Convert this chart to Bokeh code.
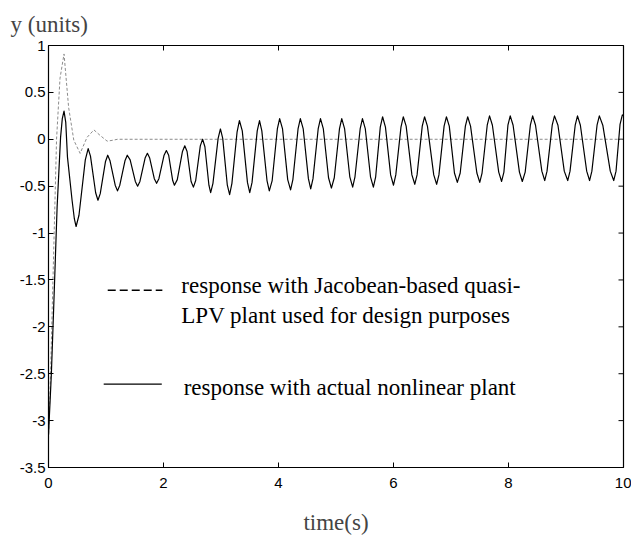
import math
from bokeh.plotting import figure
from bokeh.models import FixedTicker, Label, Arrow, Range1d, ColumnDataSource
from bokeh.embed import file_html
from bokeh.resources import INLINE

# ---- data ----
t_lpv = [0.0, 0.04, 0.09, 0.14, 0.20, 0.27, 0.35, 0.44, 0.55, 0.67, 0.79, 0.90, 1.02, 1.12, 1.20, 10.0]
y_lpv = [-3.2, -2.4, -1.2, 0.0, 0.65, 0.91, 0.34, -0.01, -0.15, 0.02, 0.10, 0.04, -0.02, -0.01, 0.0, 0.0]

t_nl = [0.00, 0.05, 0.09, 0.15, 0.21, 0.24, 0.27, 0.30, 0.33, 0.41, 0.45, 0.48,
        0.53, 0.64, 0.69, 0.73, 0.82, 0.86, 0.90, 0.99, 1.03, 1.07, 1.16, 1.20,
        1.24, 1.33, 1.37, 1.42, 1.51, 1.55, 1.59, 1.68, 1.72, 1.76, 1.84, 1.88,
        1.92, 2.01, 2.05, 2.09, 2.16, 2.19, 2.24, 2.33, 2.37, 2.41, 2.48, 2.52,
        2.56, 2.64, 2.68, 2.72, 2.79, 2.82, 2.86, 2.95, 2.99, 3.03, 3.11, 3.15,
        3.19, 3.28, 3.32, 3.37, 3.46, 3.50, 3.54, 3.63, 3.67, 3.71, 3.80, 3.84,
        3.89, 3.98, 4.02, 4.07, 4.16, 4.21, 4.25, 4.34, 4.38, 4.43, 4.52, 4.56,
        4.60, 4.69, 4.73, 4.78, 4.87, 4.92, 4.97, 5.06, 5.10, 5.15, 5.24, 5.29,
        5.33, 5.42, 5.46, 5.51, 5.60, 5.65, 5.69, 5.77, 5.81, 5.86, 5.95, 6.00,
        6.04, 6.13, 6.17, 6.22, 6.32, 6.37, 6.41, 6.50, 6.54, 6.59, 6.70, 6.75,
        6.79, 6.88, 6.92, 6.97, 7.06, 7.11, 7.16, 7.25, 7.29, 7.34, 7.45, 7.50,
        7.54, 7.63, 7.67, 7.72, 7.83, 7.88, 7.92, 7.99, 8.03, 8.08, 8.19, 8.24,
        8.29, 8.38, 8.42, 8.47, 8.58, 8.63, 8.67, 8.76, 8.80, 8.86, 8.97, 9.03,
        9.07, 9.16, 9.20, 9.25, 9.36, 9.41, 9.45, 9.54, 9.58, 9.64, 9.77, 9.83,
        9.87, 9.94, 9.98, 10.0]
y_nl = [-3.15, -2.5, -1.8, -0.72, 0.02, 0.22, 0.30, 0.18, -0.19, -0.65, -0.85, -0.93,
        -0.81, -0.22, -0.10, -0.18, -0.57, -0.65, -0.58, -0.24, -0.17, -0.23, -0.49, -0.55,
        -0.49, -0.23, -0.17, -0.22, -0.45, -0.50, -0.45, -0.20, -0.15, -0.20, -0.42, -0.47,
        -0.42, -0.17, -0.12, -0.17, -0.44, -0.49, -0.43, -0.13, -0.07, -0.13, -0.45, -0.51,
        -0.44, -0.07, 0.00, -0.08, -0.49, -0.57, -0.47, 0.01, 0.11, 0.01, -0.49, -0.59,
        -0.47, 0.08, 0.20, 0.09, -0.46, -0.57, -0.46, 0.09, 0.20, 0.09, -0.44, -0.55,
        -0.44, 0.11, 0.22, 0.11, -0.43, -0.54, -0.43, 0.11, 0.22, 0.11, -0.42, -0.53,
        -0.42, 0.11, 0.22, 0.11, -0.41, -0.52, -0.41, 0.11, 0.22, 0.11, -0.40, -0.51,
        -0.40, 0.11, 0.22, 0.11, -0.40, -0.51, -0.40, 0.13, 0.24, 0.13, -0.38, -0.49,
        -0.38, 0.13, 0.24, 0.14, -0.38, -0.48, -0.38, 0.14, 0.24, 0.14, -0.38, -0.48,
        -0.38, 0.14, 0.24, 0.14, -0.36, -0.46, -0.36, 0.14, 0.24, 0.14, -0.36, -0.46,
        -0.36, 0.15, 0.25, 0.15, -0.35, -0.45, -0.35, 0.15, 0.25, 0.15, -0.35, -0.45,
        -0.35, 0.15, 0.25, 0.15, -0.34, -0.44, -0.34, 0.15, 0.25, 0.15, -0.34, -0.44,
        -0.34, 0.15, 0.25, 0.15, -0.34, -0.44, -0.34, 0.15, 0.25, 0.15, -0.34, -0.44,
        -0.34, 0.16, 0.26, 0.25]

x_ticks = [0, 2, 4, 6, 8, 10]
x_tick_labels = ["0", "2", "4", "6", "8", "10"]
y_ticks = [-3.5, -3, -2.5, -2, -1.5, -1, -0.5, 0, 0.5, 1]
y_tick_labels = ["-3.5", "-3", "-2.5", "-2", "-1.5", "-1", "-0.5", "0", "0.5", "1"]

y_title = "y (units)"
x_title = "time(s)"
legend_lpv_1 = "response with Jacobean-based quasi-"
legend_lpv_2 = "LPV plant used for design purposes"
legend_nl = "response with actual nonlinear plant"

SERIF = "Liberation Serif"
SANS = "Liberation Sans"
X0, X1 = 0, 10
Y0, Y1 = -3.5, 1

p = figure(frame_width=575, frame_height=422,
           x_range=Range1d(X0, X1), y_range=Range1d(Y0, Y1),
           output_backend="svg", toolbar_location=None,
           min_border_left=48, min_border_right=8, min_border_top=45, min_border_bottom=70,
           title=y_title)
p.grid.visible = False
p.outline_line_color = "black"
p.outline_line_width = 1.2
p.background_fill_color = "white"
p.border_fill_color = "white"

xax = p.below[0]
yax = p.left[0]

# y-axis title shown horizontally above the top-left corner
p.title.text_font = SERIF
p.title.text_font_size = "23px"
p.title.text_font_style = "normal"
p.title.align = "left"
p.title.offset = -38
p.title.standoff = 17

def style_axis(ax, ticks, labels):
    ax.ticker = FixedTicker(ticks=ticks)
    ax.major_label_overrides = {tk: lb for tk, lb in zip(ticks, labels)}
    ax.major_tick_in = 5
    ax.major_tick_out = 0
    ax.minor_tick_in = 0
    ax.minor_tick_out = 0
    ax.axis_line_color = "black"
    ax.major_tick_line_color = "black"
    ax.major_label_text_font = SANS
    ax.major_label_text_font_size = "15px"
    ax.major_label_text_color = "black"

style_axis(xax, x_ticks, x_tick_labels)
style_axis(yax, y_ticks, y_tick_labels)
xax.major_label_standoff = 10
yax.major_label_standoff = 3
xax.axis_label = x_title
xax.axis_label_text_font = SERIF
xax.axis_label_text_font_size = "23px"
xax.axis_label_text_font_style = "normal"
xax.axis_label_standoff = 19

# inward ticks on the top and right edges of the box
top_src = ColumnDataSource(dict(x=x_ticks, y=[Y1] * len(x_ticks)))
right_src = ColumnDataSource(dict(x=[X1] * len(y_ticks), y=y_ticks))
p.ray("x", "y", source=top_src, length=5, length_units="screen", angle=-math.pi / 2,
      line_color="black", line_width=1)
p.ray("x", "y", source=right_src, length=5, length_units="screen", angle=math.pi,
      line_color="black", line_width=1)

src_lpv = ColumnDataSource(dict(t=t_lpv, y=y_lpv))
src_nl = ColumnDataSource(dict(t=t_nl, y=y_nl))
p.line("t", "y", source=src_lpv, line_color="#8c8c8c", line_width=1, line_dash="3 2")
p.line("t", "y", source=src_nl, line_color="black", line_width=1.2, line_join="round")

# legend drawn as annotations
p.add_layout(Arrow(end=None, x_start=1.03, y_start=-1.61, x_end=1.98, y_end=-1.61,
                   line_color="black", line_width=1.3, line_dash="8 4"))
p.add_layout(Arrow(end=None, x_start=0.96, y_start=-2.61, x_end=1.97, y_end=-2.61,
                   line_color="black", line_width=1.3))
for txt, xx, yy in [(legend_lpv_1, 2.31, -1.56), (legend_lpv_2, 2.31, -1.88), (legend_nl, 2.35, -2.65)]:
    p.add_layout(Label(x=xx, y=yy, text=txt, text_font=SERIF, text_font_size="23px",
                       text_baseline="alphabetic", text_color="black"))

open("out.html", "w").write(file_html(p, INLINE))
